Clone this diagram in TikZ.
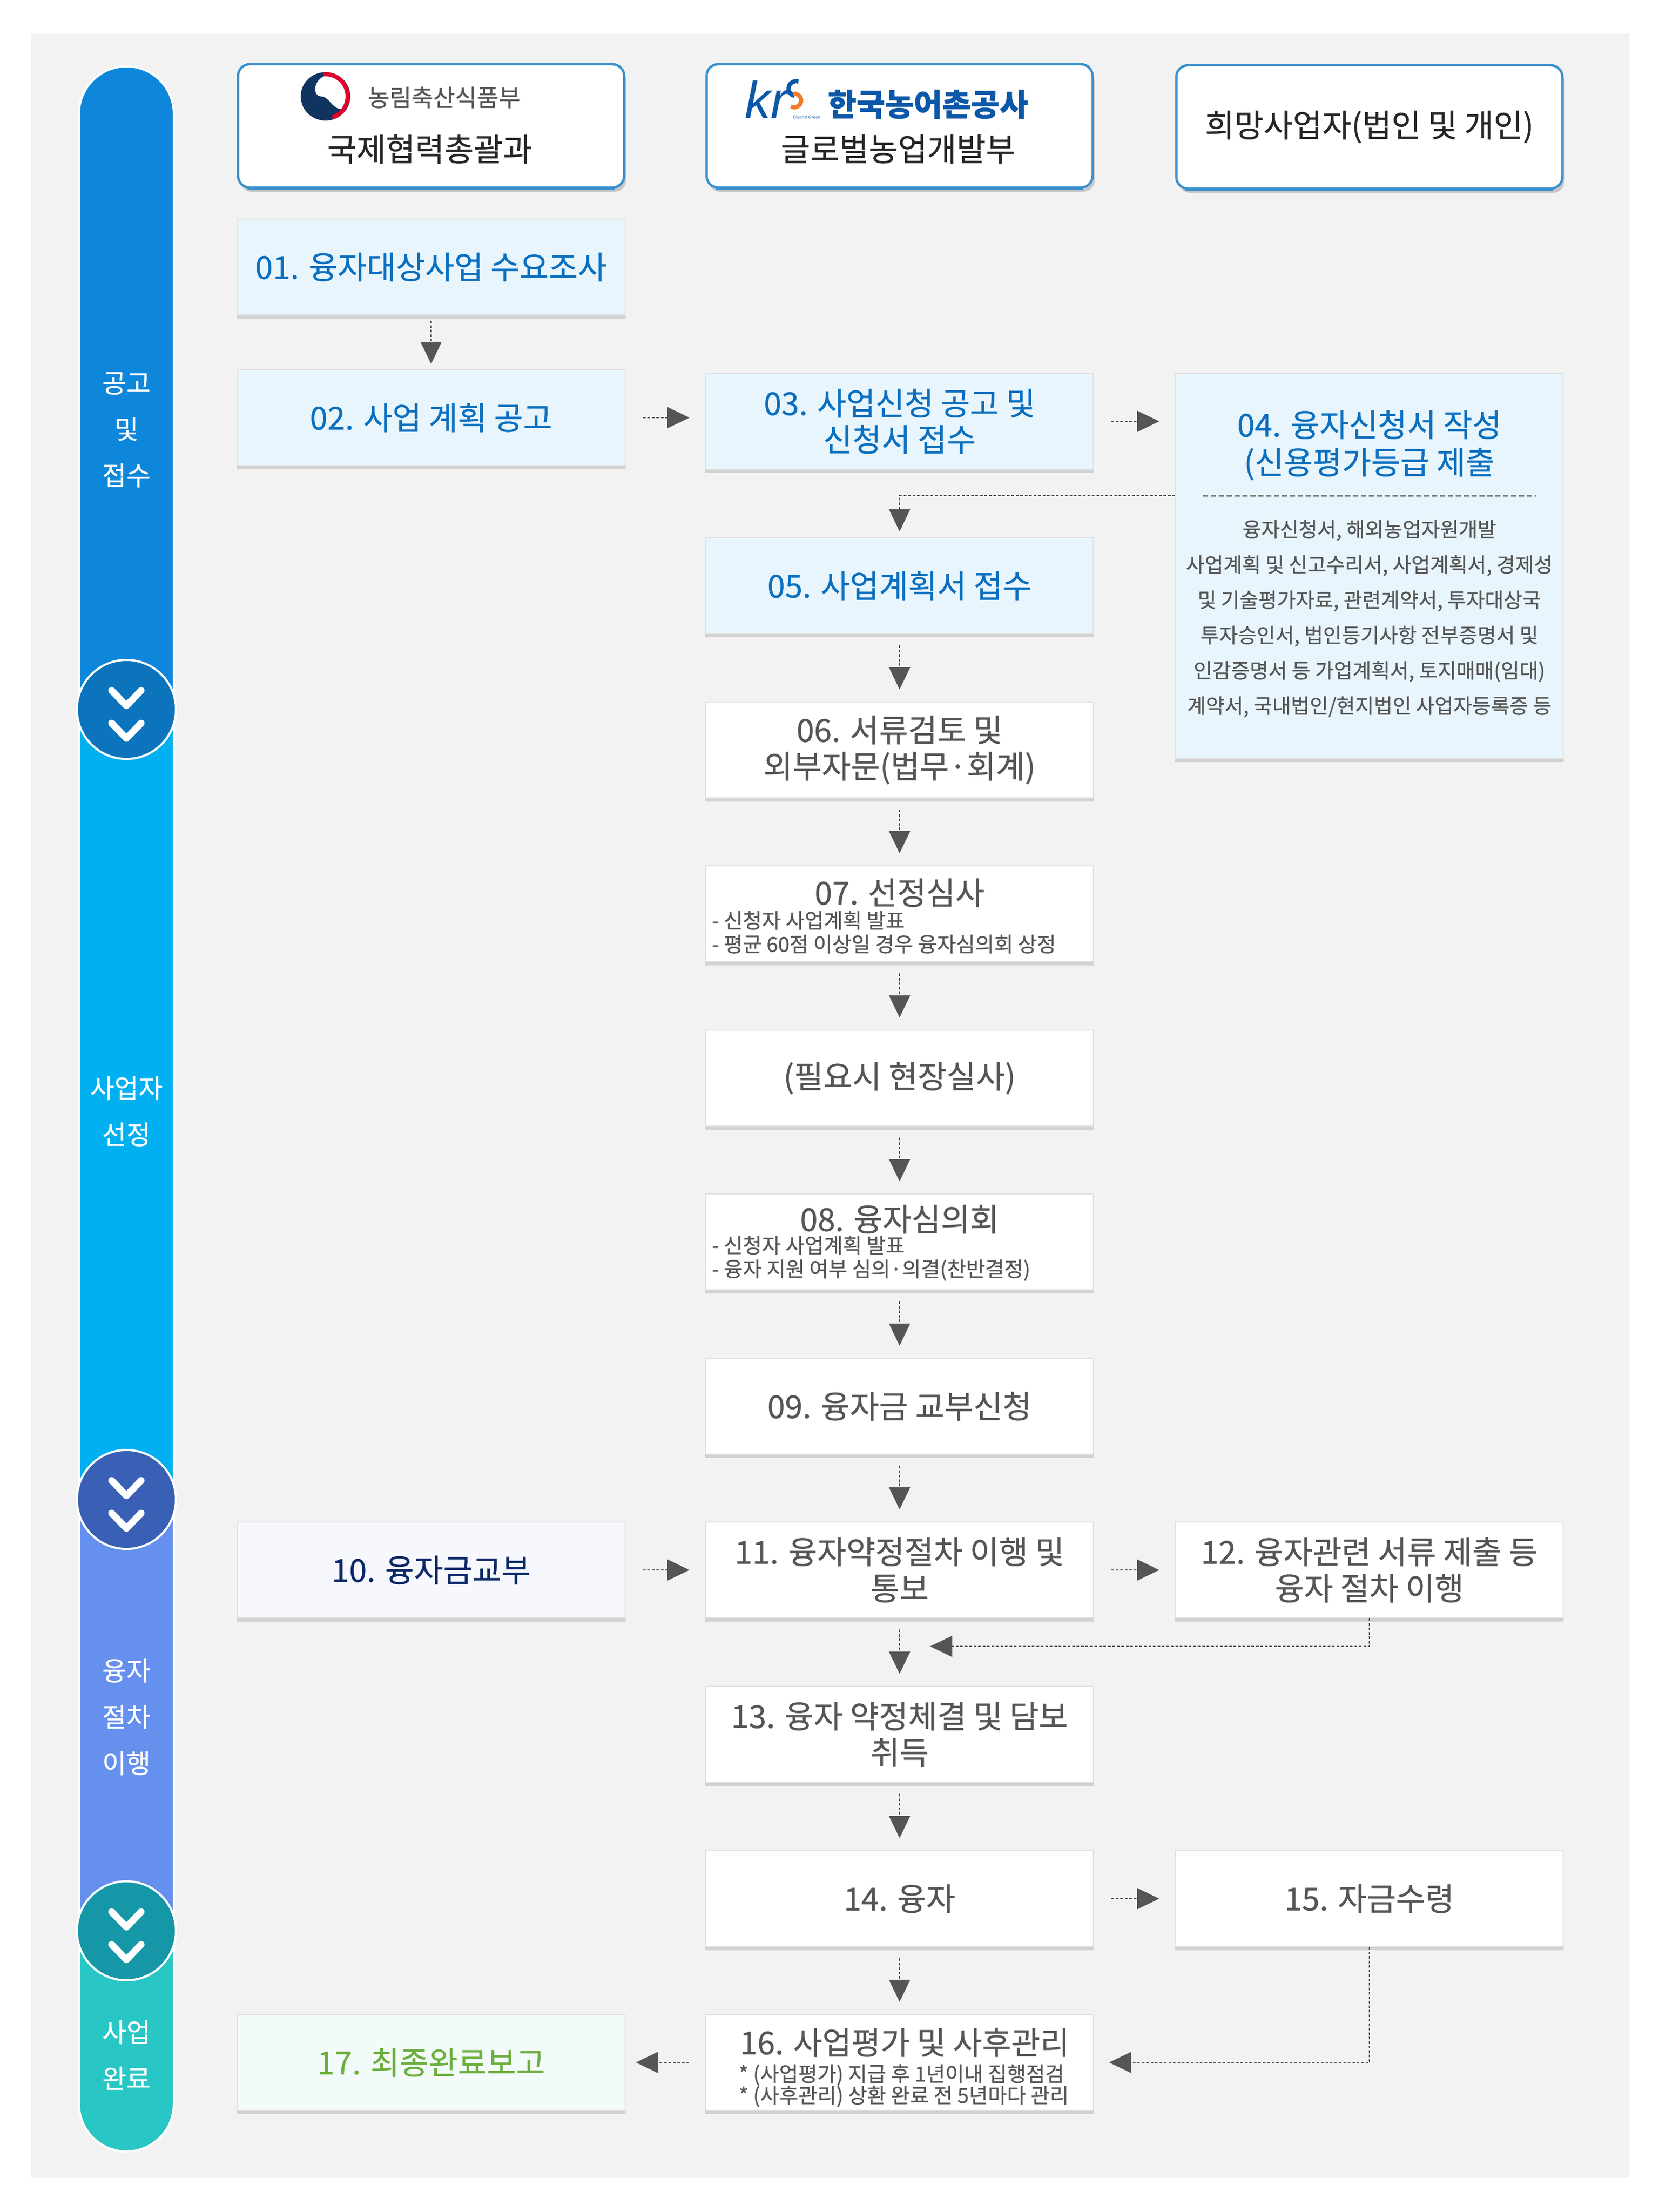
\documentclass[tikz,border=0pt]{standalone}
\usepackage{fontspec}
\setmainfont{Noto Sans CJK KR}[FakeBold=0.5]
\newfontfamily\logofont{Liberation Sans}
\usetikzlibrary{arrows.meta,shadows}

\definecolor{bggray}{HTML}{F2F2F2}
\definecolor{barA}{HTML}{0E87DB}
\definecolor{barB}{HTML}{00B0F0}
\definecolor{barC}{HTML}{6690EE}
\definecolor{barD}{HTML}{28C6C4}
\definecolor{dotA}{HTML}{0B74BD}
\definecolor{dotB}{HTML}{3A60B5}
\definecolor{dotC}{HTML}{1597A8}
\definecolor{hdrblue}{HTML}{3A90CF}
\definecolor{bluefill}{HTML}{E8F5FD}
\definecolor{bluetxt}{HTML}{0B6FBF}
\definecolor{txtgray}{HTML}{555555}
\definecolor{navyfill}{HTML}{F6F8FE}
\definecolor{navytxt}{HTML}{0D2868}
\definecolor{mintfill}{HTML}{F2FBF9}
\definecolor{greentxt}{HTML}{6DAF3E}
\definecolor{boxedge}{HTML}{E2E2E2}
\definecolor{shadowgray}{HTML}{D2D2D2}
\definecolor{arrowgray}{HTML}{555555}
\definecolor{krblue}{HTML}{0B57A8}
\definecolor{krorange}{HTML}{F07B2A}
\definecolor{mafnavy}{HTML}{0F3460}
\definecolor{mafred}{HTML}{E4002B}

\newcommand\boxfont{\fontsize{17.1}{19.6}\selectfont}
\newcommand\notefont{\fontsize{11.2}{12.8}\selectfont}
\newcommand\listfont{\fontsize{11}{19.06}\selectfont}
\newcommand\barfont{\fontsize{14.2}{25}\selectfont}

\tikzset{
  box/.style={minimum width=7.36cm, minimum height=1.82cm, inner sep=0.12cm,
    draw=boxedge, line width=0.02cm, fill=white, text=txtgray, align=center, font=\boxfont},
  bluebox/.style={box, fill=bluefill, text=bluetxt},
  boxtxt/.style={text=txtgray, inner sep=0},
  hdr/.style={draw=hdrblue, line width=0.045cm, rounded corners=0.22cm, fill=white,
    minimum width=7.33cm, minimum height=2.34cm, inner sep=0, text=black!85, font=\fontsize{17.2}{20}\selectfont,
    drop shadow={shadow xshift=0.04cm, shadow yshift=-0.08cm, fill=black!22, opacity=1}},
  flow/.style={arrowgray, line width=0.022cm, dash pattern=on 0.05cm off 0.035cm,
    -{Triangle[length=0.42cm,width=0.40cm]}},
  vshort/.style={shorten <=0.21cm, shorten >=0.23cm},
  hshort/.style={shorten <=0.33cm, shorten >=0.30cm},
  chev/.style={circle, minimum size=1.88cm, draw=white, line width=0.04cm, inner sep=0},
  barlbl/.style={text=white, align=center, font=\barfont}
}

\begin{document}
\begin{tikzpicture}
\useasboundingbox (0,0) rectangle (31.5,-42);
\fill[bggray] (0.59,-0.64) rectangle (30.94,-41.35);

% left stage bar
\begin{scope}
\clip[rounded corners=0.9cm] (1.50,-1.26) rectangle (3.30,-40.85);
\fill[barA] (1.5,-1.2) rectangle (3.3,-13.47);
\fill[barB] (1.5,-13.47) rectangle (3.3,-28.47);
\fill[barC] (1.5,-28.47) rectangle (3.3,-36.66);
\fill[barD] (1.5,-36.66) rectangle (3.3,-40.9);
\end{scope}
\draw[white, line width=0.04cm, rounded corners=0.9cm] (1.50,-1.26) rectangle (3.30,-40.85);

\node[chev, fill=dotA] (ch1) at (2.40,-13.47) {};
\node[chev, fill=dotB] (ch2) at (2.40,-28.47) {};
\node[chev, fill=dotC] (ch3) at (2.40,-36.66) {};
\foreach \c in {ch1,ch2,ch3}{
  \draw[white, line width=0.13cm, line cap=round, line join=round]
    ([shift={(-0.28,0.36)}]\c.center) -- ++(0.28,-0.29) -- ++(0.28,0.29);
  \draw[white, line width=0.13cm, line cap=round, line join=round]
    ([shift={(-0.28,-0.26)}]\c.center) -- ++(0.28,-0.29) -- ++(0.28,0.29);
}

\node[barlbl] (stage1) at (2.40,-8.16) {공고\\및\\접수};
\node[barlbl] (stage2) at (2.40,-21.10) {사업자\\선정};
\node[barlbl] (stage3) at (2.40,-32.60) {융자\\절차\\이행};
\node[barlbl] (stage4) at (2.40,-39.02) {사업\\완료};

% header boxes
\node[hdr] (h1) at (8.185,-2.39) {};
\node[hdr] (h2) at (17.08,-2.39) {};
\node[hdr] (h3) at (26.00,-2.41) {희망사업자(법인 및 개인)};
\foreach \h in {h1,h2,h3}
  \draw[hdrblue, line width=0.07cm] ([shift={(0.2,0.01)}]\h.south west) -- ([shift={(-0.2,0.01)}]\h.south east);

% ministry emblem
\begin{scope}[shift={(6.18,-1.83)}]
\fill[mafnavy] (0,0) ellipse (0.47 and 0.46);
\fill[mafred] (95:0.46) arc (95:-72:0.46) -- (-72:0.38) arc (-72:95:0.38) -- cycle;
\fill[white] (95:0.38) arc (95:-40:0.38) .. controls (0.12,-0.22) and (0.06,0.0) .. (-0.08,0.0)
  .. controls (-0.24,0.0) and (-0.24,0.28) .. cycle;
\end{scope}
\node[anchor=west, text=txtgray, font=\fontsize{12.8}{13}\selectfont] (maf) at (6.86,-1.85) {농림축산식품부};
\node[text=black!85, font=\fontsize{17.2}{20}\selectfont] (dept1) at (8.16,-2.83) {국제협력총괄과};

% KRC logo
\node[anchor=base west, inner sep=0, text=krblue, font=\logofont\itshape\fontsize{28}{28}\selectfont] (kr) at (14.14,-2.25) {kr};
\draw[krblue, line width=0.08cm] (15.16,-1.55) arc (70:260:0.14);
\draw[krorange, line width=0.08cm] (15.06,-1.78) arc (100:-120:0.13);
\node[anchor=west, text=krblue, font=\logofont\fontsize{2.3}{2.3}\selectfont, inner sep=0] (clean) at (15.05,-2.23) {Clean\,\&\,Green};
\node[text=krblue, font=\fontsize{16.8}{18}\selectfont\bfseries] (krc) at (17.62,-1.98) {한국농어촌공사};
\node[text=black!85, font=\fontsize{17.2}{20}\selectfont] (dept2) at (17.05,-2.83) {글로벌농업개발부};

% process boxes
\node[bluebox] (b01) at (8.185,-5.07) {01. 융자대상사업 수요조사};
\node[bluebox] (b02) at (8.185,-7.93) {02. 사업 계획 공고};
\node[bluebox] (b03) at (17.08,-8.00) {03. 사업신청 공고 및\\신청서 접수};
\node[bluebox, minimum height=7.31cm] (b04) at (26.00,-10.745) {};
\node[text=bluetxt, align=center, font=\fontsize{17.1}{20.2}\selectfont] (t04) at (26.00,-8.455) {04. 융자신청서 작성\\(신용평가등급 제출};
\coordinate (sep04) at (26.00,-9.41);
\draw[black!50, line width=0.03cm, dash pattern=on 0.1cm off 0.05cm] (22.84,0 |- sep04) -- (29.17,0 |- sep04);
\node[text=txtgray, align=center, font=\listfont] (n04) at (26.00,-11.745) {융자신청서, 해외농업자원개발\\사업계획 및 신고수리서, 사업계획서, 경제성\\및 기술평가자료, 관련계약서, 투자대상국\\투자승인서, 법인등기사항 전부증명서 및\\인감증명서 등 가업계획서, 토지매매(임대)\\계약서, 국내법인/현지법인 사업자등록증 등};
\node[bluebox] (b05) at (17.08,-11.12) {05. 사업계획서 접수};
\node[box] (b06) at (17.08,-14.24) {06. 서류검토 및\\외부자문(법무·회계)};
\node[box] (b07) at (17.08,-17.35) {};
\node[boxtxt, font=\boxfont] (t07) at (17.08,-16.95) {07. 선정심사};
\node[boxtxt, anchor=west, align=left, font=\notefont] (s07) at (13.51,-17.70) {- 신청자 사업계획 발표\\- 평균 60점 이상일 경우 융자심의회 상정};
\node[box] (site) at (17.08,-20.47) {(필요시 현장실사)};
\node[box] (b08) at (17.08,-23.58) {};
\node[boxtxt, font=\boxfont] (t08) at (17.08,-23.15) {08. 융자심의회};
\node[boxtxt, anchor=west, align=left, font=\notefont] (s08) at (13.51,-23.89) {- 신청자 사업계획 발표\\- 융자 지원 여부 심의·의결(찬반결정)};
\node[box] (b09) at (17.08,-26.70) {09. 융자금 교부신청};
\node[box, fill=navyfill, text=navytxt] (b10) at (8.185,-29.81) {10. 융자금교부};
\node[box] (b11) at (17.08,-29.81) {11. 융자약정절차 이행 및\\통보};
\node[box] (b12) at (26.00,-29.81) {12. 융자관련 서류 제출 등\\융자 절차 이행};
\node[box] (b13) at (17.08,-32.93) {13. 융자 약정체결 및 담보\\취득};
\node[box] (b14) at (17.08,-36.05) {14. 융자};
\node[box] (b15) at (26.00,-36.05) {15. 자금수령};
\node[box] (b16) at (17.08,-39.16) {};
\node[boxtxt, anchor=west, font=\boxfont] (t16) at (14.04,-38.78) {16. 사업평가 및 사후관리};
\node[boxtxt, anchor=west, align=left, font=\fontsize{11.2}{11.6}\selectfont] (s16) at (14.02,-39.60) {* (사업평가) 지급 후 1년이내 집행점검\\* (사후관리) 상환 완료 전 5년마다 관리};
\node[box, fill=mintfill, text=greentxt] (b17) at (8.185,-39.16) {17. 최종완료보고};

\foreach \n in {b01,b02,b03,b04,b05,b06,b07,site,b08,b09,b10,b11,b12,b13,b14,b15,b16,b17}
  \fill[shadowgray] (\n.south west) rectangle ([yshift=-0.06cm]\n.south east);

% connectors
\draw[flow, shorten <=0.10cm, shorten >=0.10cm] (b01) -- (b02);
\foreach \a/\b in {b02/b03,b03/b04,b10/b11,b11/b12,b14/b15}
  \draw[flow, hshort] (\a.east) -- (\a.east -| \b.west);
\draw[flow, shorten >=0.11cm] (b04.west |- sep04) -| (b05.north);
\foreach \a/\b in {b05/b06,b06/b07,b07/site,site/b08,b08/b09,b09/b11,b11/b13,b13/b14,b14/b16}
  \draw[flow, vshort] (\a) -- (\b);
\coordinate (join13) at (17.66,-31.26);
\draw[flow] (b12.south) |- (join13);
\draw[flow, shorten >=0.29cm] (b15.south) |- (b16.east);
\draw[flow, shorten <=0.31cm, shorten >=0.20cm] (b16.west) -- (b16.west -| b17.east);
\end{tikzpicture}
\end{document}
